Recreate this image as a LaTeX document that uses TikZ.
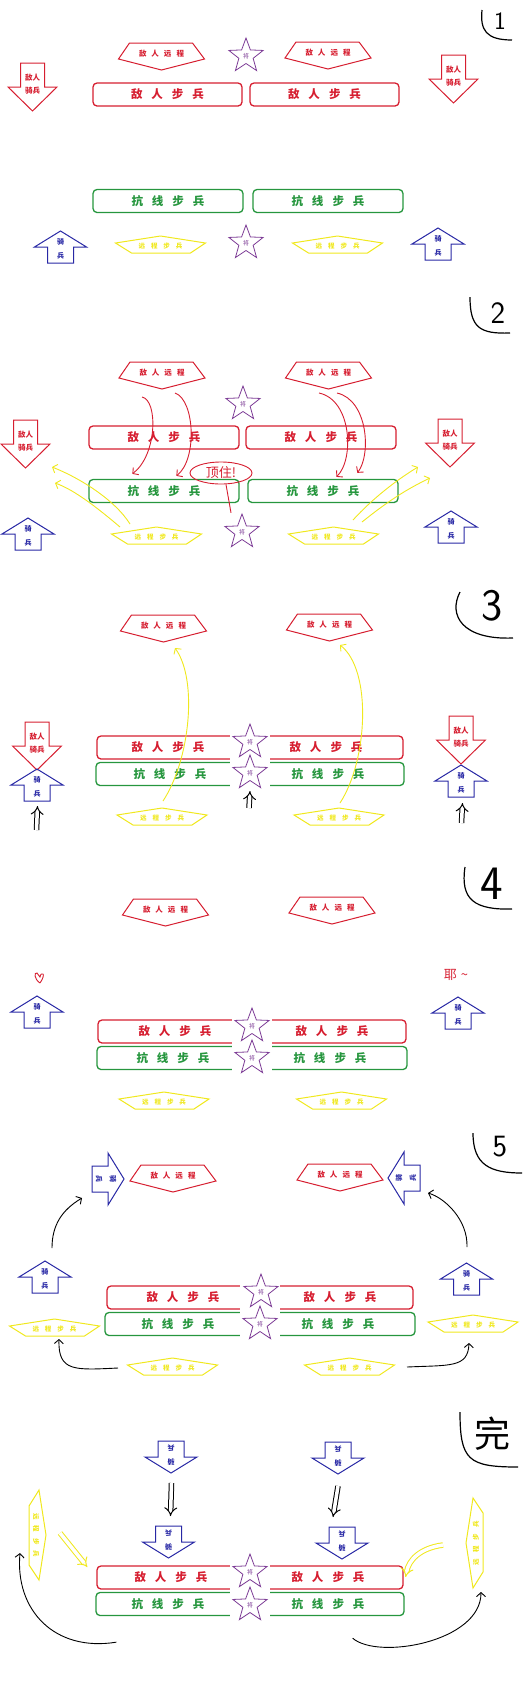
\documentclass[tikz,border=0pt]{standalone}
\usepackage{fontspec}
\usepackage{xcolor}
\usepackage{tikz}
\usetikzlibrary{arrows.meta,shapes.geometric}
\newfontfamily\cjk{Noto Sans CJK SC}

\definecolor{ered}{RGB}{214,30,48}
\definecolor{ogreen}{RGB}{38,150,62}
\definecolor{ylw}{RGB}{240,232,30}
\definecolor{cblue}{RGB}{40,40,165}
\definecolor{lpurple}{RGB}{125,60,150}

\tikzset{
  erng/.pic={
    \draw[ered,line width=1pt] (-32,-11) -- (31,-11) -- (43,5) -- (0,16) -- (-43,5) -- cycle;
    \node[rngtxt] (-t) {敌\hspace{5pt}人\hspace{5pt}远\hspace{5pt}程};
    \coordinate (-b) at (0,16);
  },
  yrng/.pic={
    \draw[ylw,line width=1pt] (-45,-3) -- (0,-10) -- (45,-3) -- (30,7) -- (-29,7) -- cycle;
    \node[ytxt] (-t) {远\hspace{6pt}程\hspace{6pt}步\hspace{6pt}兵};
    \coordinate (-p) at (0,-10);
    \coordinate (-s) at (0,7);
    \coordinate (-w) at (-45,-3);
    \coordinate (-e) at (45,-3);
  },
  cav/.pic={
    \draw[cblue,line width=1pt] (0,-16) -- (26,0) -- (13,0) -- (13,16) -- (-13,16) -- (-13,0) -- (-26,0) -- cycle;
    \node[cavtxt] (-t) at (0,2) {骑\\兵};
    \coordinate (-n) at (0,-16);
    \coordinate (-s) at (0,16);
  },
  ecav/.pic={
    \draw[ered,line width=1pt] (-12,-24) -- (12,-24) -- (12,0) -- (24.5,0) -- (0,24) -- (-24.5,0) -- (-12,0) -- cycle;
    \node[ecavtxt] (-t) at (0,-2.5) {敌人\\骑兵};
    \coordinate (-c) at (0,0);
  }
}

\begin{document}
\begin{tikzpicture}[x=1pt,y=-1pt,
  infbox/.style={rounded corners=4pt,line width=1.3pt,minimum height=23pt,inner sep=0pt},
  einf/.style={infbox,draw=ered,text=ered,font=\cjk\bfseries\fontsize{11.5}{12}\selectfont},
  oinf/.style={infbox,draw=ogreen,text=ogreen,font=\cjk\bfseries\fontsize{11.5}{12}\selectfont},
  eitxt/.style={text=ered,font=\cjk\bfseries\fontsize{11.5}{12}\selectfont},
  oitxt/.style={text=ogreen,font=\cjk\bfseries\fontsize{11.5}{12}\selectfont},
  rngtxt/.style={text=ered,inner sep=0pt,font=\cjk\bfseries\fontsize{7.5}{8}\selectfont},
  ytxt/.style={text=ylw,inner sep=0pt,transform shape,font=\cjk\bfseries\fontsize{6.5}{7}\selectfont},
  cavtxt/.style={text=cblue,align=center,inner sep=0pt,transform shape,font=\cjk\bfseries\fontsize{7}{14}\selectfont},
  ecavtxt/.style={text=ered,align=center,inner sep=0pt,font=\cjk\bfseries\fontsize{7.5}{13}\selectfont},
  ldr/.style={star,star points=5,star point ratio=2.4,minimum size=36pt,inner sep=0pt,
              draw=lpurple,fill=white,line width=0.8pt,text=lpurple,font=\cjk\fontsize{6}{6}\selectfont},
  numtxt/.style={font=\sffamily\fontsize{#1}{#1}\selectfont},
  hand/.style={line width=0.9pt},
  barb/.style={-{Straight Barb[length=4pt,width=9pt]}},
  dbl/.style={double,double distance=3.5pt,line width=1pt,-{Implies}}]

  \useasboundingbox (0,0) rectangle (529,1682);

  % ---------- 1
  \draw[hand,line width=1.2pt] (482,10) .. controls (480,30) and (486,40) .. (512,40);
  \node[numtxt=25] (n1) at (500,21) {1};
  \pic (er1l) at (161.5,54) {erng};
  \pic (er1r) at (328,53) {erng};
  \node[ldr] (ld1a) at (246,56) {将};
  \pic (ec1l) at (32.5,87) {ecav};
  \pic (ec1r) at (453.5,79) {ecav};
  \node[einf,minimum width=149pt] (ei1l) at (167.5,94.5) {敌\hspace{9pt}人\hspace{9pt}步\hspace{9pt}兵};
  \node[einf,minimum width=149pt] (ei1r) at (324.5,94.5) {敌\hspace{9pt}人\hspace{9pt}步\hspace{9pt}兵};
  \node[oinf,minimum width=150pt] (oi1l) at (168,201) {抗\hspace{9pt}线\hspace{9pt}步\hspace{9pt}兵};
  \node[oinf,minimum width=150pt] (oi1r) at (328,201) {抗\hspace{9pt}线\hspace{9pt}步\hspace{9pt}兵};
  \pic (yr1l) at (160.5,246) {yrng};
  \pic (yr1r) at (337.5,246) {yrng};
  \node[ldr] (ld1b) at (246,243) {将};
  \pic (cv1l) at (60.5,247) {cav};
  \pic (cv1r) at (438,244) {cav};

  % ---------- 2
  \draw[hand,line width=1.2pt] (470,297) .. controls (470,328) and (480,334) .. (510,333);
  \node[numtxt=31] (n2) at (498,313) {2};
  \pic (er2l) at (162,373) {erng};
  \pic (er2r) at (328.5,373) {erng};
  \node[ldr] (ld2a) at (243,404) {将};
  \pic (ec2l) at (25.5,444) {ecav};
  \pic (ec2r) at (450,443) {ecav};
  \node[einf,minimum width=150pt] (ei2l) at (164,437.5) {敌\hspace{9pt}人\hspace{9pt}步\hspace{9pt}兵};
  \node[einf,minimum width=150pt] (ei2r) at (321,437.5) {敌\hspace{9pt}人\hspace{9pt}步\hspace{9pt}兵};
  \node[oinf,minimum width=150pt] (oi2l) at (164,491) {抗\hspace{9pt}线\hspace{9pt}步\hspace{9pt}兵};
  \node[oinf,minimum width=150pt] (oi2r) at (323,491) {抗\hspace{9pt}线\hspace{9pt}步\hspace{9pt}兵};
  \pic (yr2l) at (156.5,537) {yrng};
  \pic (yr2r) at (333.5,537) {yrng};
  \node[ldr] (ld2b) at (242,532) {将};
  \pic (cv2l) at (28,534) {cav};
  \pic (cv2r) at (451,527) {cav};
  % ranged fire over the line
  \draw[hand,ered,barb] ([shift={(-20,8)}]er2l-b) .. controls +(16,3) and +(25,-19) .. ([shift={(44,-5)}]oi2l.north west);
  \draw[hand,ered,barb] ([shift={(13,4)}]er2l-b) .. controls +(20,7) and +(21,-16) .. ([shift={(88,-3)}]oi2l.north west);
  \draw[hand,ered,barb] ([shift={(-9.5,4)}]er2r-b) .. controls +(33,7) and +(18,-17) .. ([shift={(89,-2)}]oi2r.north west);
  \draw[hand,ered,barb] ([shift={(8.5,4)}]er2r-b) .. controls +(31,7) and +(14,-18) .. ([shift={(110,-6)}]oi2r.north west);
  \node[ellipse,draw=ered,line width=0.9pt,minimum width=62pt,minimum height=22pt,inner sep=0pt,
        text=ered,font=\cjk\fontsize{13}{13}\selectfont] (dz) at (221,473) {顶住!};
  \draw[hand,ered] ([xshift=5pt]dz.south) -- ([xshift=-11pt]ld2b.north);
  % ranged fire at the cavalry
  \draw[hand,ylw,barb] ([shift={(-26.5,-3)}]yr2l-p) .. controls +(-15,-24) and +(28,11) .. ([shift={(26.5,23)}]ec2l-c);
  \draw[hand,ylw,barb] ([shift={(-36.5,0)}]yr2l-p) .. controls +(-20,-17) and +(20,7) .. ([shift={(29.5,39)}]ec2l-c);
  \draw[hand,ylw,barb] ([shift={(19.5,-7)}]yr2r-p) .. controls +(20,-22) and +(-20,12) .. ([shift={(-32,24)}]ec2r-c);
  \draw[hand,ylw,barb] ([shift={(28.5,-5)}]yr2r-p) .. controls +(25,-20) and +(-25,12) .. ([shift={(-20,35)}]ec2r-c);

  % ---------- 3
  \draw[hand,line width=1.2pt] (460,592) .. controls (448,615) and (462,640) .. (513,638);
  \node[numtxt=45] (n3) at (492,606) {3};
  \pic (er3l) at (163.5,626) {erng};
  \pic (er3r) at (329.5,625) {erng};
  \pic (ec3l) at (37,746) {ecav};
  \pic (ec3r) at (461,740) {ecav};
  \pic (cv3l) at (37,785) {cav};
  \pic (cv3r) at (461,781) {cav};
  \node[einf,minimum width=306pt] (ei3) at (250,747.5) {};
  \node[oinf,minimum width=308pt] (oi3) at (250,774) {};
  \fill[white] (230,733) rectangle (270,789);
  \node[eitxt] (ei3l) at (168,747.5) {敌\hspace{9pt}人\hspace{9pt}步\hspace{9pt}兵};
  \node[eitxt] (ei3r) at (326,747.5) {敌\hspace{9pt}人\hspace{9pt}步\hspace{9pt}兵};
  \node[oitxt] (oi3l) at (170,774) {抗\hspace{9pt}线\hspace{9pt}步\hspace{9pt}兵};
  \node[oitxt] (oi3r) at (328,774) {抗\hspace{9pt}线\hspace{9pt}步\hspace{9pt}兵};
  \node[ldr] (ld3a) at (250,742) {将};
  \node[ldr] (ld3b) at (250,773) {将};
  \pic (yr3l) at (162,818) {yrng};
  \pic (yr3r) at (339,818) {yrng};
  \draw[hand,ylw,barb] ([shift={(1,-7)}]yr3l-p) .. controls +(27,-41) and +(23,32) .. ([shift={(11.5,6)}]er3l-b);
  \draw[hand,ylw,barb] ([shift={(1,-5)}]yr3r-p) .. controls +(28,-43) and +(32,25) .. ([shift={(10.5,4)}]er3r-b);
  \draw[dbl] ([shift={(-0.5,29)}]cv3l-s) -- ([shift={(0.5,5)}]cv3l-s);
  \draw[dbl] ([shift={(0.5,26)}]cv3r-s) -- ([shift={(1.5,6)}]cv3r-s);
  \draw[dbl] ([shift={(-1,35)}]ld3b.center) -- ([shift={(0,18)}]ld3b.center);

  % ---------- 4
  \draw[hand,line width=1.2pt] (465,867) .. controls (460,900) and (475,910) .. (512,909);
  \node[numtxt=48] (n4) at (492,884) {4};
  \pic (er4l) at (165.5,910) {erng};
  \pic (er4r) at (332,908) {erng};
  \draw[hand,ered] (40,983) .. controls (34,979) and (34,972) .. (37,973) -- (40,977)
                   .. controls (41,971) and (47,973) .. (40,983);
  \node[text=ered,font=\cjk\fontsize{13}{13}\selectfont] (ye) at (456,975) {耶\hspace{4pt}\textasciitilde};
  \pic (cv4l) at (37,1012) {cav};
  \pic (cv4r) at (458,1013) {cav};
  \node[einf,minimum width=308pt] (ei4) at (252,1031.5) {};
  \node[oinf,minimum width=310pt] (oi4) at (252,1058) {};
  \fill[white] (232,1017) rectangle (272,1072);
  \node[eitxt] (ei4l) at (175,1031.5) {敌\hspace{9pt}人\hspace{9pt}步\hspace{9pt}兵};
  \node[eitxt] (ei4r) at (332,1031.5) {敌\hspace{9pt}人\hspace{9pt}步\hspace{9pt}兵};
  \node[oitxt] (oi4l) at (173,1058) {抗\hspace{9pt}线\hspace{9pt}步\hspace{9pt}兵};
  \node[oitxt] (oi4r) at (330,1058) {抗\hspace{9pt}线\hspace{9pt}步\hspace{9pt}兵};
  \node[ldr] (ld4a) at (252,1026) {将};
  \node[ldr] (ld4b) at (252,1058) {将};
  \pic (yr4l) at (164,1102) {yrng};
  \pic (yr4r) at (341.5,1102) {yrng};

  % ---------- 5
  \draw[hand,line width=1.2pt] (473,1133) .. controls (473,1165) and (490,1173) .. (522,1173);
  \node[numtxt=31] (n5) at (500,1147) {5};
  \pic (er5l) at (173,1176) {erng};
  \pic (er5r) at (340,1175) {erng};
  \pic[rotate=-90] (cv5a) at (108,1179) {cav};
  \pic[rotate=90] (cv5b) at (404,1178) {cav};
  \pic (cv5l) at (45,1277) {cav};
  \pic (cv5r) at (466.5,1279) {cav};
  \node[einf,minimum width=306pt] (ei5) at (260,1297.5) {};
  \node[oinf,minimum width=310pt] (oi5) at (260,1324) {};
  \fill[white] (240,1283) rectangle (280,1339);
  \node[eitxt] (ei5l) at (183,1297.5) {敌\hspace{9pt}人\hspace{9pt}步\hspace{9pt}兵};
  \node[eitxt] (ei5r) at (340,1297.5) {敌\hspace{9pt}人\hspace{9pt}步\hspace{9pt}兵};
  \node[oitxt] (oi5l) at (178,1324) {抗\hspace{9pt}线\hspace{9pt}步\hspace{9pt}兵};
  \node[oitxt] (oi5r) at (338,1324) {抗\hspace{9pt}线\hspace{9pt}步\hspace{9pt}兵};
  \node[ldr] (ld5a) at (261,1292) {将};
  \node[ldr] (ld5b) at (260,1324) {将};
  \pic (yr5a) at (54.5,1329) {yrng};
  \pic (yr5b) at (473,1325) {yrng};
  \pic (yr5l) at (172.5,1368) {yrng};
  \pic (yr5r) at (349.5,1368) {yrng};
  \draw[hand,barb] ([shift={(7,-13)}]cv5l-n) .. controls +(0,-23) and +(-20,12) .. ([shift={(-10,19)}]cv5a-s);
  \draw[hand,barb] ([shift={(0.5,-16)}]cv5r-n) .. controls +(1,-27) and +(17,5) .. ([shift={(8,15)}]cv5b-s);
  \draw[hand,barb] ([shift={(-9.5,3)}]yr5l-w) .. controls +(-43,2) and +(-1,33) .. ([shift={(4.5,3)}]yr5a-s);
  \draw[hand,barb] ([shift={(12.5,2)}]yr5r-e) .. controls +(43,-2) and +(-1,25) .. ([shift={(-4,11)}]yr5b-s);

  % ---------- 完
  \draw[hand,line width=1.2pt] (460,1412) .. controls (460,1460) and (468,1467) .. (518,1467);
  \node[font=\cjk\fontsize{36}{36}\selectfont] (n6) at (492,1434) {完};
  \pic[rotate=180] (cv6a) at (171,1457) {cav};
  \pic[rotate=180] (cv6b) at (338,1458) {cav};
  \pic[rotate=180] (cv6c) at (168.5,1542) {cav};
  \pic[rotate=180] (cv6d) at (342,1543) {cav};
  \draw[dbl] ([shift={(0.5,10)}]cv6a-n) -- ([shift={(2,-10)}]cv6c-s);
  \draw[dbl] ([shift={(0,12)}]cv6b-n) -- ([shift={(-9,-10)}]cv6d-s);
  \pic[rotate=-90] (yr6l) at (36,1535) {yrng};
  \pic[rotate=90] (yr6r) at (476,1543) {yrng};
  \node[einf,minimum width=306pt] (ei6) at (250,1577.5) {};
  \node[oinf,minimum width=308pt] (oi6) at (250,1604) {};
  \fill[white] (230,1563) rectangle (270,1619);
  \node[eitxt] (ei6l) at (171,1577.5) {敌\hspace{9pt}人\hspace{9pt}步\hspace{9pt}兵};
  \node[eitxt] (ei6r) at (328,1577.5) {敌\hspace{9pt}人\hspace{9pt}步\hspace{9pt}兵};
  \node[oitxt] (oi6l) at (168,1604) {抗\hspace{9pt}线\hspace{9pt}步\hspace{9pt}兵};
  \node[oitxt] (oi6r) at (328,1604) {抗\hspace{9pt}线\hspace{9pt}步\hspace{9pt}兵};
  \node[ldr] (ld6a) at (250,1572) {将};
  \node[ldr] (ld6b) at (250,1605) {将};
  \draw[dbl,draw=ylw] ([shift={(14,-2)}]yr6l-p) -- ([shift={(-9,-10.5)}]ei6.west);
  \draw[dbl,draw=ylw] ([shift={(-23,2)}]yr6r-p) .. controls +(-23,3) and +(3,-17) .. ([shift={(2,-0.5)}]ei6.east);
  \draw[hand,barb] ([shift={(21,26)}]oi6.south west) .. controls +(-62,10) and +(-5,57) .. ([shift={(-9,18)}]yr6l-s);
  \draw[hand,barb] ([shift={(-52,22)}]oi6.south east) .. controls +(25,22) and +(0,50) .. ([shift={(8,4)}]yr6r-w);
\end{tikzpicture}
\end{document}
